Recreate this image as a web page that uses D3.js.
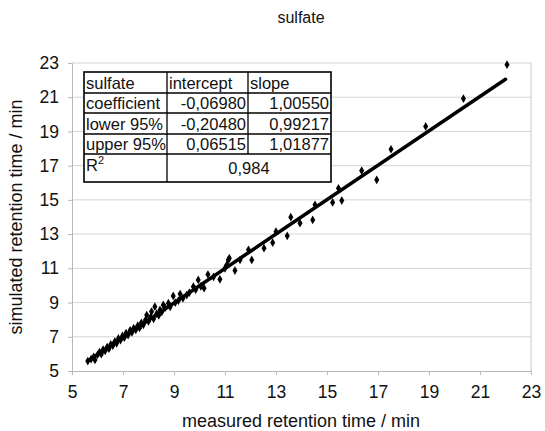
<!DOCTYPE html>
<html><head><meta charset="utf-8">
<script src="https://cdn.jsdelivr.net/npm/d3@7/dist/d3.min.js"></script>
<style>body{margin:0;background:#fff;}svg{display:block;font-family:"Liberation Sans",Arial,sans-serif;}</style>
</head><body>
<svg id="chart" width="545" height="431"></svg>
<script>
const measured = [5.62,5.75,5.85,5.90,6.00,6.08,6.15,6.22,6.30,6.38,6.45,6.52,6.60,6.68,6.75,6.82,6.90,6.98,7.05,7.12,7.20,7.28,7.35,7.42,7.50,7.58,7.65,7.72,7.80,7.88,7.93,8.00,8.08,8.12,8.20,8.25,8.32,8.40,8.45,8.52,8.58,8.65,8.78,8.85,8.97,9.05,9.17,9.24,9.35,9.50,9.60,9.76,9.85,9.95,10.05,10.18,10.33,10.55,10.80,11.00,11.07,11.13,11.17,11.39,11.59,11.92,12.05,12.53,12.87,13.00,13.44,13.58,13.94,14.44,14.53,15.22,15.45,15.58,16.36,16.95,17.51,18.87,20.35,22.06];
const simulated = [5.58,5.70,5.82,5.65,5.95,6.10,5.98,6.25,6.18,6.40,6.30,6.55,6.48,6.72,6.62,6.90,6.80,7.05,6.95,7.22,7.10,7.38,7.25,7.50,7.40,7.65,7.52,7.82,7.70,7.98,8.27,7.90,8.15,8.47,8.05,8.76,8.35,8.25,8.57,8.45,8.86,8.70,8.96,8.75,9.39,9.00,9.11,9.50,9.25,9.44,9.58,9.93,9.75,10.32,9.95,9.84,10.64,10.50,10.36,11.00,11.20,11.49,11.59,10.87,11.49,12.08,11.49,12.18,12.50,13.14,12.90,13.99,13.64,13.83,14.71,14.85,15.68,14.96,16.71,16.17,17.96,19.29,20.92,22.90];
const xTicks = [5,7,9,11,13,15,17,19,21,23];
const yTicks = [5,7,9,11,13,15,17,19,21,23];
const fitRange = [5.7, 22.0];
const intercept = -0.06980, slope = 1.00550;
const tableHeader = ["sulfate","intercept","slope"];
const tableRowLabels = ["coefficient","lower 95%","upper 95%"];
const tableIntercepts = ["-0,06980","-0,20480","0,06515"];
const tableSlopes = ["1,00550","0,99217","1,01877"];
const r2Value = "0,984";

const svg = d3.select("#chart");
const x = d3.scaleLinear().domain([5,23]).range([72,531]);
const y = d3.scaleLinear().domain([5,23]).range([371,63]);
const grey = "#b8b8b8";

svg.append("g").selectAll("line").data(yTicks.filter(d=>d>5)).join("line")
  .attr("x1",x(5)).attr("x2",x(23)).attr("y1",d=>y(d)).attr("y2",d=>y(d))
  .attr("stroke","#d4d4d4").attr("stroke-width",1);
svg.append("line").attr("x1",x(23)).attr("x2",x(23)).attr("y1",y(5)).attr("y2",y(23))
  .attr("stroke","#c8c8c8");

const xAxis = svg.append("g").attr("transform",`translate(0,${y(5)})`)
  .call(d3.axisBottom(x).tickValues(xTicks).tickSize(4).tickPadding(11).tickFormat(d3.format("d")));
const yAxis = svg.append("g").attr("transform",`translate(${x(5)},0)`)
  .call(d3.axisLeft(y).tickValues(yTicks).tickSize(4).tickPadding(9).tickFormat(d3.format("d")));
[xAxis,yAxis].forEach(a=>{
  a.select(".domain").attr("stroke",grey);
  a.selectAll(".tick line").attr("stroke",grey);
  a.selectAll("text").attr("font-size",17.5).attr("fill","#111").attr("font-family","Liberation Sans, Arial, sans-serif");
});

svg.append("line")
  .attr("x1",x(fitRange[0])).attr("y1",y(intercept+slope*fitRange[0]))
  .attr("x2",x(fitRange[1])).attr("y2",y(intercept+slope*fitRange[1]))
  .attr("stroke","#000").attr("stroke-width",3.5).attr("stroke-linecap","round");

const sym = d3.symbol().type(d3.symbolDiamond).size(22);
svg.append("g").selectAll("path").data(measured.map((m,i)=>[m,simulated[i]])).join("path")
  .attr("d",sym).attr("transform",d=>`translate(${x(d[0])},${y(d[1])})`).attr("fill","#000");

svg.append("text").attr("x",301).attr("y",23).attr("text-anchor","middle").attr("font-size",16).attr("fill","#111").text("sulfate");
svg.append("text").attr("x",301).attr("y",427).attr("text-anchor","middle").attr("font-size",18).attr("fill","#111").text("measured retention time / min");
svg.append("text").attr("transform",`translate(22,${(y(5)+y(23))/2}) rotate(-90)`).attr("text-anchor","middle").attr("font-size",18).attr("fill","#111").text("simulated retention time / min");

const tx = [84,167,248,331];
const ty = [72,93,113,134,154,182];
const tg = svg.append("g").attr("font-size",16.5).attr("fill","#111");
tg.append("rect").attr("x",tx[0]).attr("y",ty[0]).attr("width",tx[3]-tx[0]).attr("height",ty[5]-ty[0]).attr("fill","#fff").attr("stroke","#000").attr("stroke-width",1.6);
ty.slice(1,5).forEach(v=>tg.append("line").attr("x1",tx[0]).attr("x2",tx[3]).attr("y1",v).attr("y2",v).attr("stroke","#000").attr("stroke-width",1.3));
tg.append("line").attr("x1",tx[1]).attr("x2",tx[1]).attr("y1",ty[0]).attr("y2",ty[5]).attr("stroke","#000").attr("stroke-width",1.3);
tg.append("line").attr("x1",tx[2]).attr("x2",tx[2]).attr("y1",ty[0]).attr("y2",ty[4]).attr("stroke","#000").attr("stroke-width",1.3);
tableHeader.forEach((t,i)=>tg.append("text").attr("x",tx[i]+2).attr("y",ty[1]-4).text(t));
tableRowLabels.forEach((t,r)=>{
  tg.append("text").attr("x",tx[0]+2).attr("y",ty[r+2]-4).text(t);
  tg.append("text").attr("x",tx[2]-2).attr("y",ty[r+2]-4).attr("text-anchor","end").text(tableIntercepts[r]);
  tg.append("text").attr("x",tx[3]-2).attr("y",ty[r+2]-4).attr("text-anchor","end").text(tableSlopes[r]);
});
const r2 = tg.append("text").attr("x",tx[0]+2).attr("y",ty[4]+17);
r2.append("tspan").text("R");
r2.append("tspan").attr("font-size",11).attr("dy",-7).text("2");
tg.append("text").attr("x",(tx[1]+tx[3])/2).attr("y",ty[5]-8).attr("text-anchor","middle").text(r2Value);
</script>
</body></html>
